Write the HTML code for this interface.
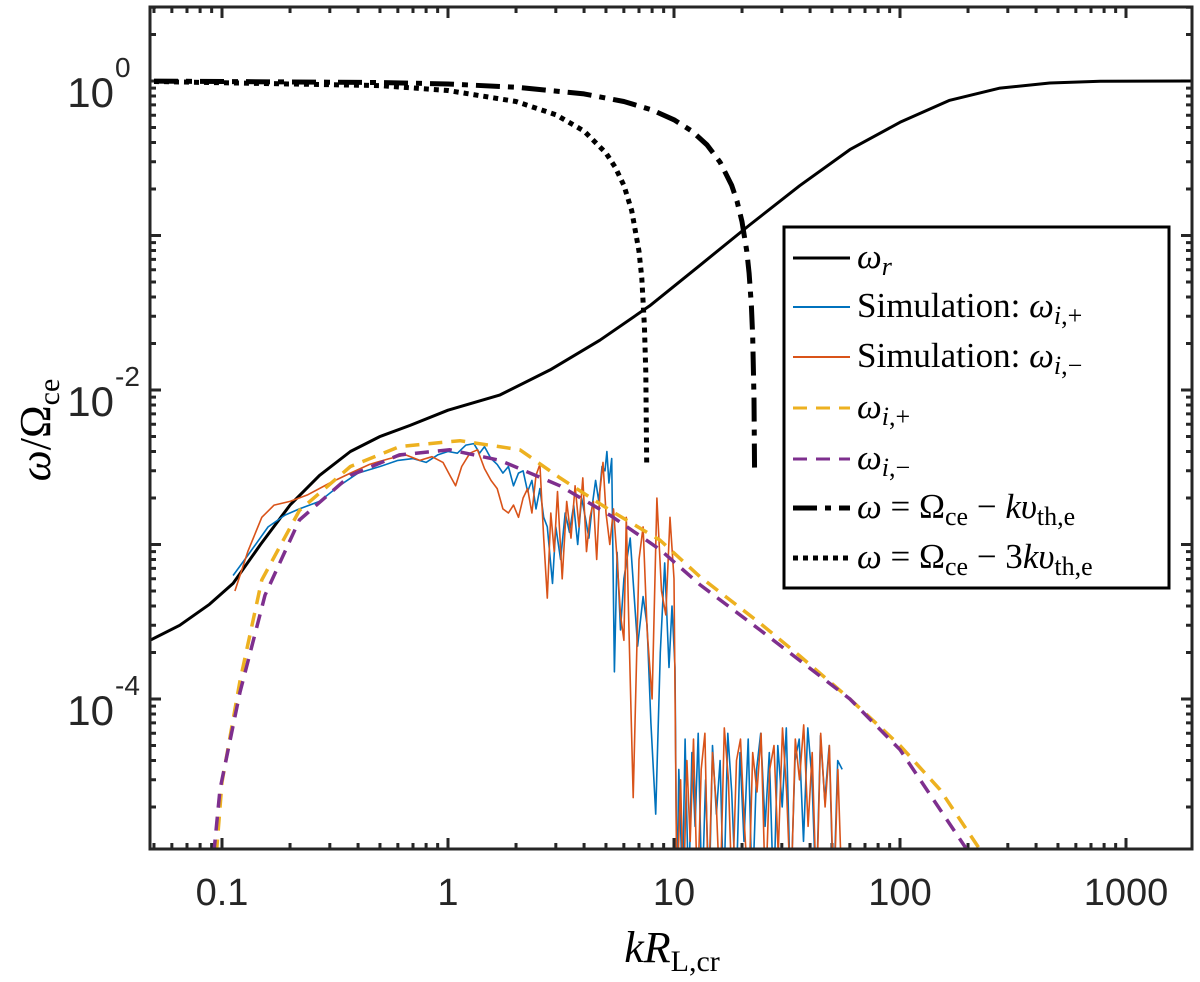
<!DOCTYPE html>
<html><head><meta charset="utf-8"><style>
html,body{margin:0;padding:0;background:#fff;}
svg{display:block;}
.tk{font-family:"Liberation Sans",sans-serif;font-size:38px;fill:#262626;}
.lg{font-family:"Liberation Serif",serif;font-size:35px;fill:#000;}
</style></head><body>
<svg id="chart" width="1200" height="982">
<defs><clipPath id="clip"><rect x="150" y="7" width="1042" height="842"/></clipPath></defs>
<rect x="0" y="0" width="1200" height="982" fill="#fff"/>
<g id="ticks"></g>
<g id="series" clip-path="url(#clip)"></g>
<rect x="150" y="7" width="1042" height="842" fill="none" stroke="#262626" stroke-width="3"/>
<g id="labels"></g>
<text x="672" y="962" text-anchor="middle" class="lg" style="font-size:44px"><tspan font-style="italic">kR</tspan><tspan font-size="30" dy="9">L,cr</tspan></text>
<text transform="translate(50,430) rotate(-90)" text-anchor="middle" class="lg" style="font-size:44px"><tspan font-style="italic">ω</tspan>/Ω<tspan font-size="30" dy="9">ce</tspan></text>
<g>
<rect x="784" y="227" width="385" height="361" fill="#fff" stroke="#000" stroke-width="3"/>
<g id="legend"></g>
</g>
</svg>
<script>
// ---- data ----
const wrK = [0.048,0.065,0.088,0.112,0.148,0.2,0.27,0.37,0.5,0.68,1.0,1.7,2.83,4.7,7.8,13,21.6,36,60,100,166,277,460,770,1960];
const wrV = [2.4e-4,3.0e-4,4.1e-4,5.6e-4,1.0e-3,1.8e-3,2.8e-3,4.0e-3,5.0e-3,5.9e-3,7.4e-3,9.3e-3,1.35e-2,2.1e-2,3.5e-2,6.4e-2,0.117,0.21,0.36,0.54,0.75,0.90,0.97,0.995,1.0];
const wpK = [0.0945,0.1,0.12,0.15,0.22,0.37,0.61,1.13,2.08,3.13,5.2,8.65,13,24,36,60,100,150,225];
const wpV = [1.0e-5,2.9e-5,1.3e-4,5.9e-4,1.66e-3,3.2e-3,4.3e-3,4.7e-3,4.1e-3,2.7e-3,1.67e-3,1.07e-3,6.2e-4,3.1e-4,1.9e-4,1.0e-4,5.0e-5,2.6e-5,1.07e-5];
const wmK = [0.092,0.098,0.12,0.155,0.22,0.37,0.61,1.02,1.7,3.13,5.2,8.65,13,24,60,100,197];
const wmV = [1.0e-5,2.6e-5,1.1e-4,4.7e-4,1.44e-3,2.8e-3,3.8e-3,4.1e-3,3.5e-3,2.4e-3,1.55e-3,9.3e-4,5.5e-4,2.8e-4,1.0e-4,4.7e-5,1.07e-5];
const ddK = [0.05,0.5,1,2,4,6,8,10,12,14,16,18,19,20,21,21.5,22,22.3,22.6,22.74];
const ddV = [0.998,0.978,0.956,0.912,0.825,0.737,0.649,0.561,0.474,0.386,0.298,0.211,0.167,0.123,0.079,0.057,0.035,0.022,0.0088,0.0028];
const dtK = [0.05,0.5,1,2,3,4,5,5.5,6,6.5,7,7.2,7.4,7.5,7.57];
const dtV = [0.993,0.934,0.868,0.737,0.605,0.474,0.342,0.276,0.211,0.145,0.079,0.053,0.026,0.013,0.0033];
const sbK = [0.112,0.13,0.16,0.19,0.22,0.27,0.33,0.40,0.50,0.60,0.70,0.80,0.90,1.0,1.1,1.2,1.3,1.38,1.45,1.55,1.65,1.75,1.85,1.95,2.05,2.15,2.25,2.35,2.45,2.55,2.65,2.75,2.9,3.0,3.15,3.3,3.45,3.6,3.75,3.9,4.05,4.2,4.35,4.5,4.65,4.8,4.95,5.05,5.15,5.3,5.45,5.6,5.8,6.0,6.4,6.9,7.3,7.6,7.9,8.3,8.7,9.1,9.5,9.8,10.1,10.3,10.5,10.9,11.2,11.6,12.0,12.4,12.8,13.3,13.8,14.3,14.8,15.4,16.0,16.6,17.3,18.0,18.8,19.6,20.4,21.3,22.2,23.2,24.2,25.3,26.4,27.6,28.8,30.1,31.4,32.8,34.3,35.8,37.4,39.1,40.8,42.6,44.5,46.5,48.6,50.8,53.0,55.5];
const sbV = [6.3e-4,8.5e-4,1.3e-3,1.55e-3,1.7e-3,1.9e-3,2.4e-3,2.9e-3,3.2e-3,3.5e-3,3.6e-3,3.4e-3,3.8e-3,4.0e-3,3.9e-3,4.4e-3,4.5e-3,3.9e-3,4.3e-3,3.6e-3,3.3e-3,2.9e-3,3.2e-3,2.4e-3,2.9e-3,3.0e-3,2.2e-3,2.6e-3,1.7e-3,2.3e-3,1.5e-3,1.3e-3,5.6e-4,1.3e-3,8e-4,1.6e-3,1.2e-3,1.8e-3,1.0e-3,2.0e-3,1.5e-3,1.1e-3,1.8e-3,2.6e-3,1.9e-3,3.2e-3,3.0e-3,4.0e-3,2.5e-3,3.6e-3,1.5e-4,8.9e-4,2.8e-4,6e-4,1.1e-3,2.2e-4,4.6e-4,3e-4,7.0e-5,1.8e-5,2.0e-4,7.6e-4,1.6e-4,4e-4,1.6e-4,5e-6,3.5e-5,6e-6,5.5e-5,5e-6,4.5e-5,1.5e-5,6e-5,5e-6,3e-5,5e-6,5e-5,1.8e-5,4e-5,5e-6,6e-5,2.5e-5,5e-6,4.5e-5,1.2e-5,5.5e-5,5e-6,3.5e-5,6e-5,1.5e-5,4.5e-5,5e-6,5e-5,2e-5,6.5e-5,5e-6,4e-5,5.5e-5,1.2e-5,6.5e-5,3e-5,5e-6,5.8e-5,2.2e-5,5e-5,5e-6,4e-5,3.5e-5];
const soK = [0.114,0.13,0.15,0.17,0.20,0.24,0.30,0.37,0.45,0.55,0.65,0.75,0.85,0.95,1.02,1.08,1.15,1.25,1.35,1.45,1.55,1.65,1.75,1.85,1.95,2.05,2.15,2.25,2.35,2.45,2.55,2.65,2.75,2.85,2.95,3.05,3.2,3.35,3.5,3.65,3.8,3.95,4.1,4.25,4.4,4.55,4.7,4.85,5.0,5.2,5.4,5.6,5.8,6.0,6.15,6.3,6.6,7.0,7.3,7.6,8.0,8.4,8.8,9.2,9.6,10.0,10.3,10.7,11.0,11.4,11.8,12.2,12.7,13.2,13.7,14.2,14.8,15.4,16.0,16.7,17.4,18.1,18.9,19.7,20.5,21.4,22.3,23.3,24.3,25.4,26.5,27.7,28.9,30.2,31.5,32.9,34.4,35.9,37.5,39.2,40.9,42.7,44.6,46.6,48.7,50.9,53.1,55.5];
const soV = [5.0e-4,9.0e-4,1.5e-3,1.8e-3,1.9e-3,2.1e-3,2.5e-3,2.9e-3,3.3e-3,3.6e-3,3.8e-3,3.5e-3,3.7e-3,3.4e-3,2.8e-3,2.4e-3,3.2e-3,3.9e-3,4.1e-3,3.1e-3,2.6e-3,2.3e-3,1.7e-3,1.6e-3,1.8e-3,1.5e-3,2.0e-3,2.3e-3,1.6e-3,2.8e-3,3.3e-3,1.1e-3,4.5e-4,1.6e-3,9e-4,2.2e-3,6e-4,1.9e-3,1.1e-3,2.4e-3,1.3e-3,2.7e-3,9e-4,1.5e-3,1.9e-3,8e-4,2.2e-3,3.4e-3,1.6e-3,1.0e-3,1.7e-3,8e-4,3.5e-4,2.4e-4,1.5e-3,3.3e-4,2.3e-5,8e-4,1.3e-3,2.8e-4,1.0e-4,2.0e-3,5e-4,3.5e-4,1.5e-3,6e-4,5e-6,3e-5,5e-6,4e-5,1.2e-5,5.5e-5,5e-6,3.5e-5,6e-5,5e-6,4.5e-5,2e-5,5e-6,6.5e-5,3e-5,5e-6,4e-5,5.5e-5,1.5e-5,5e-6,4.5e-5,2.5e-5,6e-5,5e-6,3.5e-5,5e-5,1e-5,6.5e-5,2.5e-5,5e-6,5.5e-5,3e-5,6.8e-5,1.5e-5,4.5e-5,5e-6,6e-5,2e-5,5e-5,5e-6,3.5e-5,5e-6];
const xTickVals = [0.1,1,10,100,1000];
const xTickLabels = ["0.1","1","10","100","1000"];
const yTickExps = [0,-2,-4];
const yTickLabels = ["0","-2","-4"];

// ---- axes ----
const X0=448, XD=226, Y0=81, YD=154.5;
const xs = k => X0 + XD*Math.log10(k);
const ys = v => Y0 - YD*Math.log10(v);
const NS="http://www.w3.org/2000/svg";
function mk(tag, parent){const e=document.createElementNS(NS,tag);parent.appendChild(e);return e;}
const tg=document.getElementById('ticks'), sg=document.getElementById('series'), lg=document.getElementById('labels'), leg=document.getElementById('legend');
let d='';
for(let e=-2;e<=3;e++){for(let m=1;m<10;m++){const x=xs(m*Math.pow(10,e));if(x<150||x>1192)continue;const L=m===1?11:6;d+=`M${x},849v${-L}M${x},7v${L}`;}}
for(let e=-5;e<=0;e++){for(let m=1;m<10;m++){const y=ys(m*Math.pow(10,e));if(y<7||y>849)continue;const L=m===1?11:6;d+=`M150,${y}h${L}M1192,${y}h${-L}`;}}
const tp=mk('path',tg);tp.setAttribute('d',d);tp.setAttribute('stroke','#262626');tp.setAttribute('stroke-width','3');


xTickVals.forEach((v,i)=>{const t=mk('text',lg);t.setAttribute('x',xs(v));t.setAttribute('y',905);t.setAttribute('text-anchor','middle');t.setAttribute('class','tk');t.textContent=xTickLabels[i];

});
yTickExps.forEach((e,i)=>{const t=mk('text',lg);t.setAttribute('x',114);t.setAttribute('y',ys(Math.pow(10,e))+26);t.setAttribute('text-anchor','end');t.setAttribute('class','tk');t.setAttribute('style','font-size:42px');t.textContent='10';


const s=mk('text',lg);s.setAttribute('x',115);s.setAttribute('y',ys(Math.pow(10,e))-4);s.setAttribute('class','tk');s.setAttribute('style','font-size:28px');s.textContent=yTickLabels[i];

});
function line(K,V,color,w,dash,name){const p=mk('path',sg);p.setAttribute('d',K.map((k,i)=>(i?'L':'M')+xs(k).toFixed(1)+','+ys(V[i]).toFixed(1)).join(''));p.setAttribute('fill','none');p.setAttribute('stroke',color);p.setAttribute('stroke-width',w);p.setAttribute('stroke-linejoin','round');if(dash)p.setAttribute('stroke-dasharray',dash);

}
line(ddK,ddV,'#000',5,'24 8 6 8','line-omega-minus-kv');
line(dtK,dtV,'#000',5,'5 5','line-omega-minus-3kv');
line(wrK,wrV,'#000',3,null,'line-omega-r');
line(sbK,sbV,'#0072BD',1.6,null,'line-sim-plus');
line(soK,soV,'#D95319',1.6,null,'line-sim-minus');
line(wpK,wpV,'#EDB120',3.5,'14 9','line-omega-i-plus');
line(wmK,wmV,'#7E2F8E',3.5,'14 9','line-omega-i-minus');
// legend
const items=[['#000',3,null,'<tspan font-style="italic">ω</tspan><tspan font-style="italic" font-size="26" dy="7">r</tspan>'],
['#0072BD',2,null,'Simulation:  <tspan font-style="italic">ω</tspan><tspan font-size="26" dy="7"><tspan font-style="italic">i</tspan>,+</tspan>'],
['#D95319',2,null,'Simulation:  <tspan font-style="italic">ω</tspan><tspan font-size="26" dy="7"><tspan font-style="italic">i</tspan>,−</tspan>'],
['#EDB120',3,'14 9','<tspan font-style="italic">ω</tspan><tspan font-size="26" dy="7"><tspan font-style="italic">i</tspan>,+</tspan>'],
['#7E2F8E',3,'14 9','<tspan font-style="italic">ω</tspan><tspan font-size="26" dy="7"><tspan font-style="italic">i</tspan>,−</tspan>'],
['#000',5,'24 8 6 8','<tspan font-style="italic">ω</tspan> = Ω<tspan font-size="26" dy="7">ce</tspan><tspan dy="-7"> − </tspan><tspan font-style="italic">kυ</tspan><tspan font-size="26" dy="7">th,e</tspan>'],
['#000',5,'5 5','<tspan font-style="italic">ω</tspan> = Ω<tspan font-size="26" dy="7">ce</tspan><tspan dy="-7"> − 3</tspan><tspan font-style="italic">kυ</tspan><tspan font-size="26" dy="7">th,e</tspan>']];
const ly=[258,307,357,408,459,508,558];
items.forEach((it,i)=>{const l=mk('line',leg);l.setAttribute('x1',793);l.setAttribute('x2',850);l.setAttribute('y1',ly[i]);l.setAttribute('y2',ly[i]);l.setAttribute('stroke',it[0]);l.setAttribute('stroke-width',it[1]);if(it[2])l.setAttribute('stroke-dasharray',it[2]);


const t=mk('text',leg);t.setAttribute('x',857);t.setAttribute('y',ly[i]+10);t.setAttribute('class','lg');t.innerHTML=it[3];

});
</script>
</body></html>
